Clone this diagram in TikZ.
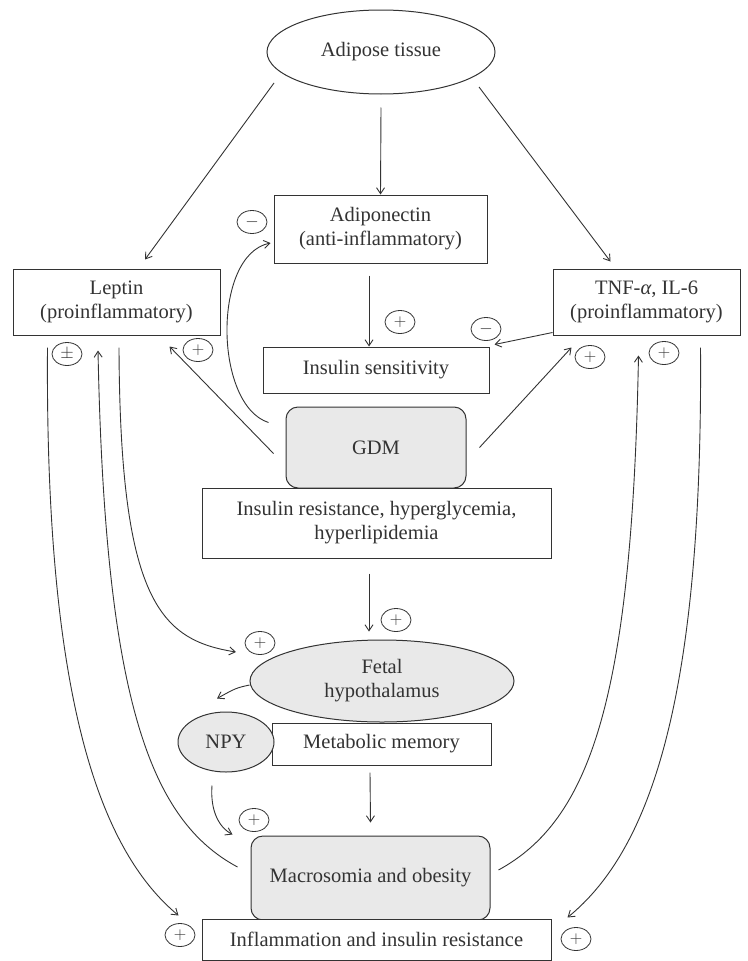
\documentclass[tikz,border=0pt]{standalone}
\usepackage{fontspec}
\setmainfont{Liberation Serif}
\usetikzlibrary{shapes.geometric,arrows.meta,calc}
\definecolor{ink}{HTML}{333333}
\definecolor{boxgray}{HTML}{E9E9E9}
\tikzset{
  every node/.style={text=ink, font=\fontsize{20.5}{24}\selectfont, align=center, inner sep=0pt},
  wbox/.style={draw=ink, line width=1pt, rectangle, fill=white},
  gbox/.style={draw=ink, line width=1pt, rectangle, rounded corners=12pt, fill=boxgray},
  oval/.style={draw=ink, line width=1pt, ellipse},
  sign/.style={draw=ink, line width=0.8pt, ellipse, minimum width=30pt, minimum height=23pt, font=\fontsize{16}{16}\selectfont},
  arr/.style={draw=ink, line width=0.9pt, -{Straight Barb[length=6pt,width=8pt]}},
}
\begin{document}
\begin{tikzpicture}[x=1pt,y=-1pt]
\useasboundingbox (0,0) rectangle (747,961);
% nodes
\node[oval, minimum width=228pt, minimum height=84pt] (adipose) at (381,52) {Adipose tissue};
\node[wbox, minimum width=213pt, minimum height=68pt] (adipo) at (380.5,229) {Adiponectin\\(anti-inflammatory)};
\node[wbox, minimum width=207pt, minimum height=66pt] (leptin) at (116.5,302) {Leptin\\(proinflammatory)};
\node[wbox, minimum width=187pt, minimum height=66pt] (tnf) at (646.5,302) {TNF-\textit{α}, IL-6\\(proinflammatory)};
\node[wbox, minimum width=226pt, minimum height=46pt] (inssens) at (376,370) {Insulin sensitivity};
\node[gbox, minimum width=180pt, minimum height=81pt] (gdm) at (376,447.5) {GDM};
\node[wbox, minimum width=349pt, minimum height=70pt] (ir) at (376.5,523) {Insulin resistance, hyperglycemia,\\hyperlipidemia};
\node[oval, fill=boxgray, minimum width=264pt, minimum height=82pt] (fetal) at (382,681) {Fetal\\hypothalamus};
\node[wbox, minimum width=219pt, minimum height=42pt] (metab) at (381.5,744) {Metabolic memory};
\node[oval, fill=boxgray, minimum width=96pt, minimum height=60pt] (npy) at (226,742) {NPY};
\node[gbox, minimum width=239pt, minimum height=84pt] (macro) at (370.5,878) {Macrosomia and obesity};
\node[wbox, minimum width=349pt, minimum height=41pt] (infl) at (376.5,939.5) {Inflammation and insulin resistance};
% signs
\node[sign] (s1) at (252,222) {$-$};
\node[sign] (s2) at (400,322) {$+$};
\node[sign] (s3) at (486,329) {$-$};
\node[sign] (s4) at (67,354) {$\pm$};
\node[sign] (s5) at (198,350) {$+$};
\node[sign] (s6) at (590,357) {$+$};
\node[sign] (s7) at (664,353) {$+$};
\node[sign] (s8) at (396,620) {$+$};
\node[sign] (s9) at (260,643) {$+$};
\node[sign] (s10) at (254,820) {$+$};
\node[sign] (s11) at (180,935) {$+$};
\node[sign] (s12) at (576,939) {$+$};
% connectors
\draw[arr] ($(adipose.center)+(-107,31)$) -- ($(leptin.north)+(28.5,-9)$);
\draw[arr] ($(adipose.south)+(0,13)$) -- (adipo.north);
\draw[arr] ($(adipose.center)+(98,35)$) -- ($(tnf.north)+(-36,-7)$);
\draw[arr] ($(adipo.south)+(-11.5,12)$) -- ($(inssens.north)+(-7,0)$);
\draw[arr] ($(tnf.south west)+(0,-3)$) -- ($(inssens.north east)+(5,-2)$);
\draw[arr] ($(gdm.west)+(-12,6)$) -- ($(leptin.south east)+(-51,11)$);
\draw[arr] ($(gdm.west)+(-17,-25)$) .. controls (214,405) and (212,255) .. ($(adipo.west)+(-3,14)$);
\draw[arr] ($(gdm.east)+(13,0)$) -- ($(tnf.south)+(-75,12)$);
\draw[arr] ($(ir.south)+(-7.5,15)$) -- ($(fetal.north)+(-13,-8)$);
\draw[arr] ($(fetal.west)+(0,4)$) .. controls (236,688) .. ($(npy.north)+(-9,-13)$);
\draw[arr] ($(metab.south)+(-11.5,7)$) -- ($(macro.north)+(0,-13)$);
\draw[arr] ($(npy.south)+(-14,13)$) .. controls (210,812) and (220,828) .. ($(macro.north west)+(-18,-1)$);
\draw[arr] ($(leptin.south west)+(35,12)$) .. controls (45,700) and (100,850) .. ($(infl.west)+(-23,-24)$);
\draw[arr] ($(macro.west)+(-13,-11)$) .. controls (150,820) and (105,700) .. ($(leptin.south)+(-18.5,15)$);
\draw[arr] ($(leptin.south)+(2.5,12)$) .. controls (120,600) and (160,640) .. ($(fetal.center)+(-146,-29)$);
\draw[arr] ($(tnf.south east)+(-40,12)$) .. controls (703,700) and (650,850) .. ($(infl.east)+(16,-22)$);
\draw[arr] ($(macro.east)+(8,-8)$) .. controls (590,820) and (632,700) .. ($(tnf.south)+(-8,20)$);
\end{tikzpicture}
\end{document}
